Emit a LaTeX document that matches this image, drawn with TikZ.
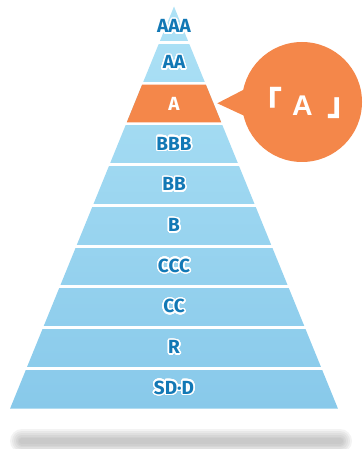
\documentclass[tikz,border=0pt]{standalone}
\usepackage{fontspec}
\setmainfont{Fira Sans}
\newfontfamily\cjkfont{Noto Sans CJK JP}
\newfontfamily\callfont{Liberation Sans}
\usepackage{contour}
\contourlength{1.5pt}
\contournumber{32}
\definecolor{lblue}{HTML}{AEE2F6}
\definecolor{dblue}{HTML}{88C9EA}
\definecolor{orng}{HTML}{F4874A}
\definecolor{txtblue}{HTML}{1278B5}
\definecolor{shadowgray}{HTML}{9A9A9A}
\begin{document}
\begin{tikzpicture}[x=1bp,y=-1bp,
  lbl/.style={font=\bfseries\fontsize{19bp}{19bp}\selectfont, text=txtblue, inner sep=0pt},
  gapline/.style={white, line width=3bp},
  shadowline/.style={shadowgray, opacity=0.12, line cap=round}]
\useasboundingbox (0,0) rectangle (362,449);
% shadow
\foreach \w in {24,20,16,12,9,6}
  \draw[shadowline, line width=\w bp] (22,441) -- (340,441);
% pyramid
\shade[top color=lblue, bottom color=dblue] (174,6.5) -- (337.9,408.5) -- (10.1,408.5) -- cycle;
\foreach \y in {42.5,83.2,123.9,164.6,205.3,246.0,286.7,327.4,368.1}
  \draw[gapline] (0,\y) -- (362,\y);
\fill[orng] (142.1,84.7) -- (205.9,84.7) -- (221.25,122.4) -- (126.75,122.4) -- cycle;
% labels
\node[lbl] (aaa) at (174,27) {\contour{white}{AAA}};
\node[lbl] (aa) at (174,63) {\contour{white}{AA}};
\node[lbl, text=white] (a) at (174,103.6) {A};
\node[lbl] (bbb) at (174,144.3) {\contour{white}{BBB}};
\node[lbl] (bb) at (174,185) {\contour{white}{BB}};
\node[lbl] (b) at (174,225.7) {\contour{white}{B}};
\node[lbl] (ccc) at (174,266.4) {\contour{white}{CCC}};
\node[lbl] (cc) at (174,307) {\contour{white}{CC}};
\node[lbl] (r) at (174,347.8) {\contour{white}{R}};
\node[lbl] (sdd) at (174,388.3) {\contour{white}{SD·D}};
% callout
\coordinate (tip) at (217.3,103.3);
\fill[orng] (tip) -- (245,89) -- (249,118) -- cycle;
\node[circle, fill=orng, minimum size=120bp, inner sep=0pt] (bubble) at (302,102) {};
\node[anchor=base, inner sep=0pt, text=white,
  font=\callfont\bfseries\fontsize{28.5bp}{28.5bp}\selectfont] (calltext) at (302.5,115.3)
  {\llap{{\cjkfont\fontsize{33bp}{33bp}\selectfont 「}\hspace{19.8bp}}\makebox[0pt]{A}\rlap{\hspace{24.8bp}{\cjkfont\fontsize{33bp}{33bp}\selectfont 」}}};
\end{tikzpicture}
\end{document}
